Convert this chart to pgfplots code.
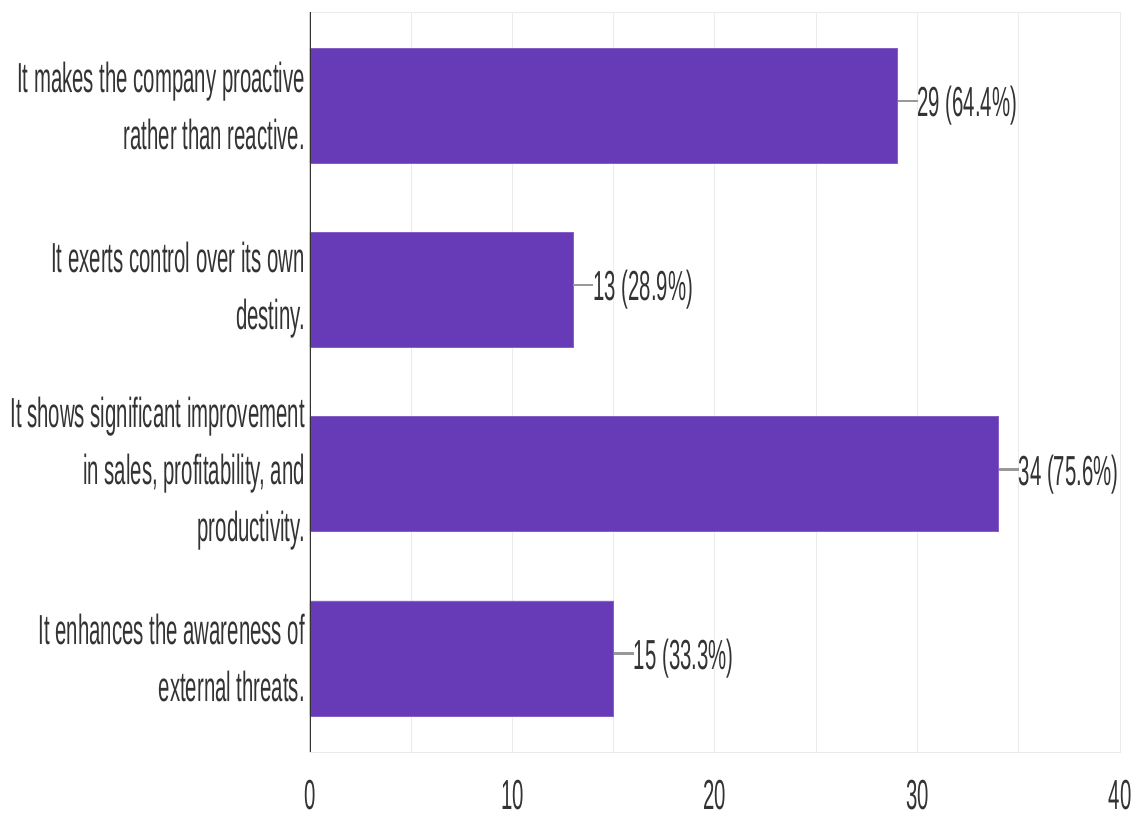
\documentclass[border=0pt]{standalone}
\usepackage{fontspec}
\setmainfont[FakeStretch=0.485]{Liberation Sans}
\usepackage{pgfplots}
\pgfplotsset{compat=1.18}
\usetikzlibrary{calc}
\definecolor{barc}{HTML}{673AB7}
\definecolor{txt}{HTML}{333333}
\definecolor{gridc}{HTML}{EBEBEB}
\definecolor{lead}{HTML}{999999}
\begin{document}
\fontsize{42}{57}\selectfont
\begin{tikzpicture}
\begin{axis}[
  name=ax,
  xbar,
  scale only axis,
  width=810pt, height=740pt,
  xmin=0, xmax=40,
  ymin=-0.508, ymax=3.508,
  y dir=reverse,
  bar width=0.625,
  xtick={0,10,20,30,40},
  minor xtick={5,15,25,35},
  xmajorgrids, xminorgrids,
  major grid style={gridc, line width=1pt},
  minor grid style={gridc, line width=1pt},
  axis line style={gridc, line width=1pt},
  major tick length=0pt, minor tick length=0pt,
  ytick={0,1,2,3},
  yticklabels={{It makes the company proactive\\rather than reactive.},
               {It exerts control over its own\\destiny.},
               {It shows significant improvement\\in sales, profitability, and\\productivity.},
               {It enhances the awareness of\\external threats.}},
  yticklabel style={align=right, text=txt, inner sep=0pt, xshift=-5pt, font=\fontsize{42}{57}\selectfont},
  xticklabel style={text=txt, inner sep=0pt, yshift=-28pt, font=\fontsize{42}{57}\selectfont},
  /pgf/number format/assume math mode=true,
  point meta=explicit symbolic,
  nodes near coords={\textcolor{lead}{\rule[0.34em]{20pt}{2.5pt}}\pgfplotspointmeta},
  nodes near coords style={anchor=west, inner sep=0pt, text=txt, font=\fontsize{42}{57}\selectfont},
]
\addplot[fill=barc, draw=barc!80!white, line width=0.5pt] coordinates {
  (29,0) [29 (64.4\%)]
  (13,1) [13 (28.9\%)]
  (34,2) [34 (75.6\%)]
  (15,3) [15 (33.3\%)]
};
\draw[txt, line width=2pt] (axis cs:0,-0.508) -- (axis cs:0,3.508);
\end{axis}
\pgfresetboundingbox
\path ($(ax.south west)+(-310pt,-67pt)$) rectangle ($(ax.north east)+(15pt,12pt)$);
\end{tikzpicture}
\end{document}
